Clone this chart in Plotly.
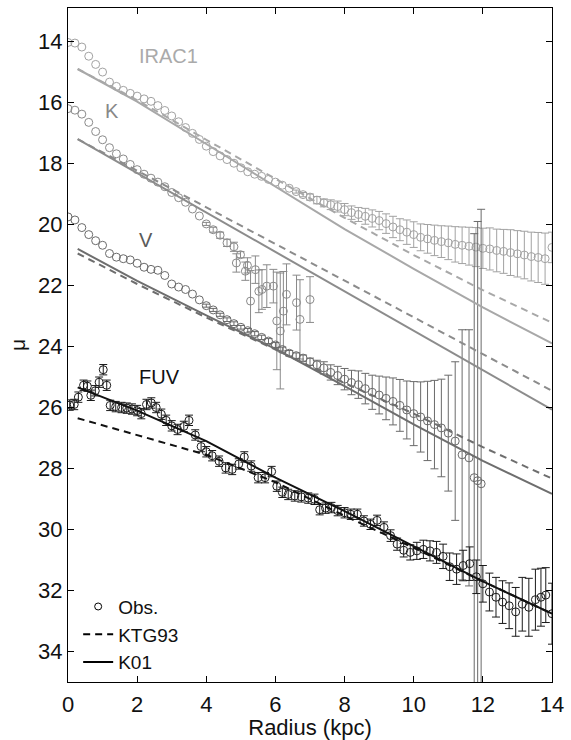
import plotly.graph_objects as go

# ---------------- data ----------------
# IRAC1 observations
irac_r = [0.0, 0.2, 0.4, 0.6, 0.8, 1.0, 1.2, 1.4, 1.6, 1.8,
          2.0, 2.2, 2.4, 2.6, 2.8, 3.0, 3.2, 3.4, 3.6, 3.8,
          4.0, 4.2, 4.4, 4.6, 4.8, 5.0, 5.2, 5.4, 5.6, 5.8,
          6.0, 6.2, 6.4, 6.6, 6.8, 7.0, 7.2, 7.4, 7.6, 7.8,
          8.0, 8.2, 8.4, 8.6, 8.8, 9.0, 9.2, 9.4, 9.6, 9.8,
          10.0, 10.2, 10.4, 10.6, 10.8, 11.0, 11.2, 11.4, 11.6, 11.8,
          12.0, 12.2, 12.4, 12.6, 12.8, 13.0, 13.2, 13.4, 13.6, 13.8,
          14.0]
irac_mu = [14.03, 14.05, 14.18, 14.48, 14.75, 15.00, 15.33, 15.47, 15.60, 15.70,
           15.79, 15.88, 15.96, 16.10, 16.26, 16.44, 16.63, 16.82, 17.01, 17.21,
           17.43, 17.61, 17.75, 17.87, 17.99, 18.14, 18.27, 18.35, 18.42, 18.52,
           18.61, 18.71, 18.81, 18.92, 19.02, 19.10, 19.20, 19.29, 19.35, 19.41,
           19.51, 19.61, 19.67, 19.73, 19.80, 19.87, 19.97, 20.08, 20.17, 20.25,
           20.33, 20.42, 20.47, 20.52, 20.56, 20.60, 20.65, 20.68, 20.71, 20.74,
           20.78, 20.80, 20.85, 20.88, 20.92, 20.96, 21.00, 21.05, 21.08, 21.12,
           20.75]
irac_err = [0, 0, 0, 0, 0, 0, 0, 0, 0, 0,
            0, 0, 0, 0, 0, 0, 0, 0, 0, 0,
            0, 0, 0, 0, 0, 0, 0, 0, 0, 0,
            0, 0, 0, 0.05, 0.07, 0.10, 0.12, 0.13, 0.16, 0.18,
            0.20, 0.22, 0.23, 0.26, 0.28, 0.30, 0.32, 0.35, 0.36, 0.40,
            0.42, 0.44, 0.47, 0.50, 0.52, 0.55, 0.58, 0.60, 0.62, 0.64,
            0.66, 0.69, 0.70, 0.72, 0.75, 0.76, 0.78, 0.80, 0.82, 0.84,
            0.50]

# K observations
k_r = [0.0, 0.2, 0.4, 0.6, 0.8, 1.0, 1.2, 1.4, 1.6, 1.8,
       2.0, 2.2, 2.4, 2.6, 2.8, 3.0, 3.2, 3.4, 3.6, 3.8,
       4.0, 4.2, 4.4, 4.6, 4.8,
       4.87, 4.99, 5.13, 5.19, 5.28, 5.42, 5.52, 5.61, 5.75, 5.94,
       6.04, 6.14, 6.23, 6.32, 6.61, 6.71, 7.0]
k_mu = [16.20, 16.25, 16.38, 16.65, 16.95, 17.22, 17.48, 17.68, 17.85, 18.03,
        18.20, 18.35, 18.48, 18.61, 18.76, 18.95, 19.12, 19.27, 19.49, 19.72,
        19.98, 20.17, 20.35, 20.60, 20.73,
        21.26, 20.99, 21.53, 21.34, 22.51, 21.48, 22.19, 22.13, 22.02, 22.02,
        23.16, 23.49, 22.84, 22.29, 22.56, 23.11, 22.46]
k_err = [0, 0, 0, 0, 0, 0, 0, 0, 0, 0,
         0, 0, 0, 0, 0, 0, 0, 0, 0, 0,
         0.05, 0.08, 0.10, 0.12, 0.15,
         0.30, 0.10, 0.30, 0.25, 1.00, 0.45, 0.70, 0.65, 0.70, 0.55,
         1.60, 1.90, 1.30, 1.00, 0.90, 1.30, 0.75]

# V observations
v_r = [0.0, 0.2, 0.4, 0.6, 0.8, 1.0, 1.2, 1.4, 1.6, 1.8,
       2.0, 2.2, 2.4, 2.6, 2.8, 3.0, 3.2, 3.4, 3.6, 3.8,
       4.0, 4.2, 4.4, 4.6, 4.8, 5.0, 5.2, 5.4, 5.6, 5.8,
       6.0, 6.2, 6.4, 6.6, 6.8, 7.0, 7.2, 7.4, 7.6, 7.8,
       8.0, 8.2, 8.4, 8.6, 8.8, 9.0, 9.2, 9.4, 9.6, 9.8,
       10.0, 10.2, 10.4, 10.6, 10.8, 11.0, 11.2, 11.4, 11.6,
       11.75, 11.85, 11.95]
v_mu = [19.75, 19.85, 20.10, 20.33, 20.53, 20.68, 20.95, 21.07, 21.12, 21.16,
        21.27, 21.40, 21.47, 21.50, 21.67, 21.95, 22.05, 22.13, 22.28, 22.47,
        22.66, 22.80, 22.96, 23.12, 23.25, 23.37, 23.48, 23.58, 23.70, 23.82,
        23.95, 24.10, 24.22, 24.30, 24.38, 24.50, 24.60, 24.70, 24.85, 24.95,
        25.07, 25.18, 25.25, 25.38, 25.50, 25.59, 25.70, 25.80, 25.93, 26.08,
        26.20, 26.31, 26.44, 26.56, 26.67, 26.84, 27.10, 27.55, 27.65,
        28.30, 28.40, 28.50]
v_err = [0, 0, 0, 0, 0, 0, 0, 0, 0, 0,
         0, 0, 0, 0, 0, 0, 0, 0, 0, 0,
         0.05, 0.05, 0.05, 0.06, 0.06, 0.06, 0.07, 0.07, 0.07, 0.08,
         0.08, 0.08, 0.09, 0.09, 0.10, 0.12, 0.15, 0.20, 0.25, 0.30,
         0.35, 0.40, 0.45, 0.50, 0.56, 0.62, 0.70, 0.77, 0.85, 0.95,
         1.05, 1.15, 1.30, 1.45, 1.60, 1.90, 2.60, 4.10, 4.20,
         8.00, 8.50, 9.00]

# FUV observations
fuv_r = [0.05, 0.18, 0.30, 0.45, 0.56, 0.66, 0.79, 0.90, 1.02, 1.12,
         1.22, 1.38, 1.55, 1.70, 1.85, 2.00, 2.12, 2.27, 2.41, 2.55,
         2.70, 2.84, 3.00, 3.17, 3.35, 3.50, 3.68, 3.85, 4.00, 4.17,
         4.37, 4.56, 4.75, 4.94, 5.10, 5.30, 5.50, 5.70, 5.89, 6.04,
         6.20, 6.37, 6.56, 6.75, 6.95, 7.13, 7.28, 7.45, 7.62, 7.80,
         8.00, 8.18, 8.37, 8.56, 8.75, 8.94, 9.14, 9.33, 9.52, 9.71,
         9.90, 10.09, 10.28, 10.47, 10.66, 10.85, 11.04, 11.24, 11.43, 11.62,
         11.81, 12.00, 12.19, 12.38, 12.57, 12.76, 12.95, 13.14, 13.33, 13.52,
         13.68, 13.82, 14.00]
fuv_mu = [25.92, 25.90, 25.66, 25.27, 25.30, 25.60, 25.45, 25.17, 24.76, 25.27,
          25.93, 25.97, 26.00, 26.02, 26.05, 26.10, 26.20, 25.90, 25.85, 26.00,
          26.22, 26.42, 26.60, 26.72, 26.62, 26.42, 26.90, 27.28, 27.45, 27.58,
          27.76, 27.98, 28.03, 27.85, 27.62, 27.92, 28.30, 28.30, 28.10, 28.58,
          28.78, 28.85, 28.90, 28.93, 28.97, 29.01, 29.35, 29.30, 29.28, 29.38,
          29.45, 29.50, 29.50, 29.72, 29.83, 29.70, 29.93, 30.20, 30.48, 30.68,
          30.75, 30.70, 30.65, 30.70, 30.75, 30.88, 31.22, 31.30, 31.18, 31.12,
          31.55, 31.78, 32.05, 32.22, 32.38, 32.50, 32.70, 32.45, 32.55, 32.30,
          32.22, 32.15, 32.76]
fuv_err = [0.17, 0.17, 0.17, 0.17, 0.17, 0.17, 0.17, 0.17, 0.17, 0.17,
           0.17, 0.17, 0.17, 0.17, 0.17, 0.17, 0.17, 0.17, 0.17, 0.17,
           0.17, 0.17, 0.17, 0.17, 0.17, 0.17, 0.17, 0.17, 0.17, 0.17,
           0.17, 0.17, 0.17, 0.17, 0.17, 0.17, 0.17, 0.17, 0.17, 0.17,
           0.17, 0.17, 0.17, 0.17, 0.17, 0.17, 0.17, 0.17, 0.17, 0.17,
           0.17, 0.17, 0.17, 0.17, 0.17, 0.17, 0.18, 0.19, 0.20, 0.22,
           0.25, 0.28, 0.30, 0.33, 0.36, 0.40, 0.45, 0.50, 0.50, 0.55,
           0.55, 0.60, 0.62, 0.65, 0.70, 0.75, 0.80, 0.88, 0.95, 1.00,
           0.95, 0.90, 1.00]

# model profiles (KTG93 dashed, K01 solid)
model_r = [0.28, 2.0, 4.0, 6.0, 8.0, 10.0, 12.0, 14.0]
irac_k01 = [14.90, 15.97, 17.36, 18.76, 20.15, 21.45, 22.72, 23.90]
irac_ktg = [14.90, 15.92, 17.22, 18.50, 19.78, 21.00, 22.15, 23.22]
k_k01 = [17.20, 18.31, 19.60, 20.90, 22.19, 23.48, 24.77, 26.07]
k_ktg = [17.20, 18.23, 19.44, 20.64, 21.84, 23.04, 24.25, 25.45]
v_k01 = [20.80, 21.85, 22.98, 24.08, 25.30, 26.55, 27.75, 28.83]
v_ktg = [20.95, 21.95, 23.05, 24.10, 25.20, 26.20, 27.30, 28.33]
fuv_k01 = [25.34, 26.10, 27.10, 28.30, 29.40, 30.55, 31.70, 32.76]
fuv_ktg = [26.35, 26.90, 27.55, 28.45, 29.55, 30.60, 31.70, 32.76]

band_names = ["IRAC1", "K", "V", "FUV"]
label_r = [2.0, 1.0, 2.0, 2.0]
label_mu = [14.49, 16.29, 20.5, 25.01]

# ---------------- styling ----------------
FONT = "Liberation Sans, Arial, Helvetica, sans-serif"
obs_col = {"IRAC1": "#a2a2a2", "K": "#8a8a8a", "V": "#6a6a6a", "FUV": "#1a1a1a"}
line_col = {"IRAC1": "#a8a8a8", "K": "#8c8c8c", "V": "#6e6e6e", "FUV": "#111111"}
label_col = {"IRAC1": "#aaaaaa", "K": "#888888", "V": "#5a5a5a", "FUV": "#111111"}

obs = {
    "IRAC1": (irac_r, irac_mu, irac_err),
    "K": (k_r, k_mu, k_err),
    "V": (v_r, v_mu, v_err),
    "FUV": (fuv_r, fuv_mu, fuv_err),
}
models = {
    "IRAC1": (irac_ktg, irac_k01),
    "K": (k_ktg, k_k01),
    "V": (v_ktg, v_k01),
    "FUV": (fuv_ktg, fuv_k01),
}

fig = go.Figure()

for b in band_names:
    r, mu, err = obs[b]
    c = obs_col[b]
    r0 = [x for x, e in zip(r, err) if e == 0]
    m0 = [y for y, e in zip(mu, err) if e == 0]
    if r0:
        fig.add_trace(go.Scatter(
            x=r0, y=m0, mode="markers", showlegend=False, hoverinfo="skip",
            marker=dict(symbol="circle-open", size=8, color=c, line=dict(width=1, color=c))))
    r1 = [x for x, e in zip(r, err) if e > 0]
    m1 = [y for y, e in zip(mu, err) if e > 0]
    e1 = [e for e in err if e > 0]
    fig.add_trace(go.Scatter(
        x=r1, y=m1, mode="markers", showlegend=False, hoverinfo="skip",
        marker=dict(symbol="circle-open", size=8, color=c, line=dict(width=1, color=c)),
        error_y=dict(type="data", array=e1, color=c, thickness=1, width=4)))

for b in band_names:
    ktg, k01 = models[b]
    c = line_col[b]
    fig.add_trace(go.Scatter(x=model_r, y=ktg, mode="lines", showlegend=False,
                             hoverinfo="skip",
                             line=dict(color=c, width=2, dash="7px,5px")))
    fig.add_trace(go.Scatter(x=model_r, y=k01, mode="lines", showlegend=False,
                             hoverinfo="skip",
                             line=dict(color=c, width=2)))

# legend entries
fig.add_trace(go.Scatter(x=[None], y=[None], mode="markers", name="Obs.",
                         marker=dict(symbol="circle-open", size=7, color="black",
                                     line=dict(width=1, color="black"))))
fig.add_trace(go.Scatter(x=[None], y=[None], mode="lines", name="KTG93",
                         line=dict(color="black", width=2, dash="7px,5px")))
fig.add_trace(go.Scatter(x=[None], y=[None], mode="lines", name="K01",
                         line=dict(color="black", width=2)))

for name, xr, ym in zip(band_names, label_r, label_mu):
    fig.add_annotation(x=xr, y=ym, text=name, showarrow=False, xanchor="left",
                       yanchor="middle", font=dict(size=20, color=label_col[name], family=FONT))

axis_common = dict(showline=True, linecolor="black", linewidth=1, mirror="ticks",
                   ticks="inside", ticklen=6, tickwidth=1, tickcolor="black",
                   showgrid=False, zeroline=False,
                   tickfont=dict(size=22, color="#111", family=FONT))

fig.update_xaxes(range=[0, 14], tickvals=[0, 2, 4, 6, 8, 10, 12, 14],
                 title=dict(text="Radius (kpc)", font=dict(size=22, color="#111", family=FONT), standoff=0),
                 ticklabelstandoff=3, **axis_common)
fig.update_yaxes(range=[35, 12.9], tickvals=[14, 16, 18, 20, 22, 24, 26, 28, 30, 32, 34],
                 title=dict(text="μ", font=dict(size=21, color="#111", family=FONT), standoff=6),
                 **axis_common)

fig.update_layout(
    width=571, height=740,
    margin=dict(l=68, r=14, t=7, b=56),
    paper_bgcolor="white", plot_bgcolor="white",
    font=dict(family=FONT, size=20, color="#111"),
    legend=dict(x=0.021, y=0.14, xanchor="left", yanchor="top",
                bgcolor="rgba(0,0,0,0)", font=dict(size=19, family=FONT, color="#111"),
                itemwidth=30, tracegroupgap=0),
    showlegend=True,
)

fig.write_html("out.html")
